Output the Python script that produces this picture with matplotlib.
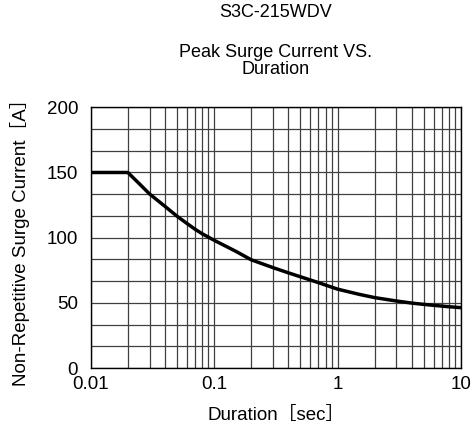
import matplotlib
matplotlib.use("Agg")
import matplotlib.pyplot as plt
from matplotlib.ticker import FixedLocator, LogLocator, NullFormatter

duration = [0.01, 0.02, 0.025, 0.03, 0.04, 0.05, 0.06, 0.07, 0.08, 0.1, 0.15, 0.2, 0.3,
            0.4, 0.5, 0.7, 1, 1.5, 2, 3, 4, 5, 7, 8, 10]
current = [150, 150, 141, 133.5, 124, 116.5, 111, 106.5, 103, 98, 89.5, 83, 77,
           73, 70, 65.5, 60.5, 56.5, 54, 51.4, 49.8, 48.8, 47.5, 47, 46.3]
yticks = [0, 50, 100, 150, 200]
xticks = [0.01, 0.1, 1, 10]
xticklabels = ["0.01", "0.1", "1", "10"]

plt.rcParams['font.family'] = ['Liberation Sans', 'Noto Sans CJK JP', 'DejaVu Sans']

fig = plt.figure(figsize=(4.76, 4.38), dpi=100)
ax = fig.add_axes([0.1905, 0.1598, 0.778, 0.5952])

ax.plot(duration, current, color='black', lw=2.5, solid_capstyle='butt',
        solid_joinstyle='round', zorder=3)
ax.set_xscale('log')
ax.set_xlim(0.01, 10)
ax.set_ylim(0, 200)

ax.xaxis.set_major_locator(FixedLocator(xticks))
ax.set_xticklabels(xticklabels)
ax.xaxis.set_minor_locator(LogLocator(base=10, subs=range(2, 10)))
ax.xaxis.set_minor_formatter(NullFormatter())
ax.yaxis.set_major_locator(FixedLocator(yticks))
ax.yaxis.set_minor_locator(FixedLocator([v * 50 / 3 for v in range(13)]))

ax.grid(True, which='both', axis='both', color='#404040', lw=0.9)
ax.tick_params(which='both', length=0, labelsize=13.5)
ax.tick_params(axis='y', pad=9)
ax.tick_params(axis='x', pad=6)
for s in ax.spines.values():
    s.set_color('black')
    s.set_linewidth(1.0)

ax.set_xlabel('Duration［sec］', fontsize=13.5, labelpad=10)
ax.set_ylabel('Non-Repetitive Surge Current［A］', fontsize=13.5, labelpad=12)

fig.text(0.579, 0.971, 'S3C-215WDV', ha='center', va='center', fontsize=13)
fig.text(0.579, 0.861, 'Peak Surge Current VS.\nDuration', ha='center', va='center',
         fontsize=13, linespacing=0.95)

fig.savefig('out.png', dpi=100)
